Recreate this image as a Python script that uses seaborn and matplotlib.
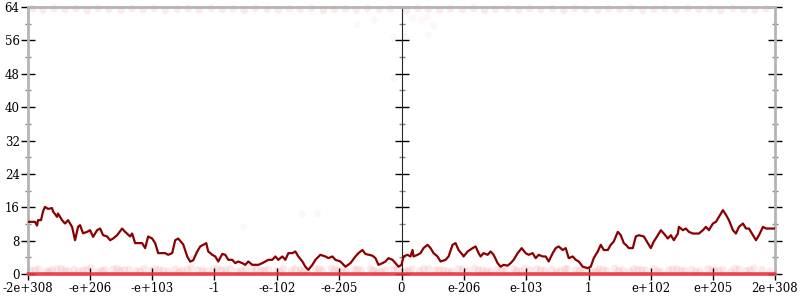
import matplotlib
matplotlib.use("Agg")
import matplotlib.pyplot as plt
from matplotlib.ticker import MultipleLocator
import seaborn as sns
import pandas as pd

# ---- data (x = position along the ordered-float axis, y = count) ----
tick_pos = [-373, -311, -249, -187, -124, -62, 0, 62, 124, 187, 249, 311, 373]
tick_labels = ["-2e+308", "-e+206", "-e+103", "-1", "-e-102", "-e-205", "0",
               "e-206", "e-103", "1", "e+102", "e+205", "2e+308"]

line_x = [-373, -366, -364, -363, -360, -358, -356, -353, -349, -348, -344, -343, -339, -336,
          -333, -329, -326, -323, -321, -318, -314, -311, -308, -304, -301, -298, -294, -291,
          -288, -284, -279, -276, -271, -269, -266, -259, -256, -253, -249, -246, -243, -236,
          -233, -229, -226, -223, -219, -218, -214, -211, -208, -204, -201, -198, -195, -193,
          -189, -186, -183, -179, -176, -173, -169, -166, -163, -159, -156, -153, -149, -146,
          -143, -139, -136, -133, -129, -126, -123, -119, -116, -113, -109, -106, -103, -99,
          -96, -93, -89, -86, -81, -76, -73, -69, -66, -61, -56, -51, -46, -43, -39, -36,
          -29, -26, -23, -19, -16, -13, -9, -6, -3, 0, 2, 6, 9, 11, 12, 16, 19, 22, 26, 29,
          32, 36, 39, 44, 47, 51, 54, 57, 61, 62, 66, 71, 74, 77, 79, 82, 86, 89, 92, 96, 99,
          102, 106, 109, 112, 116, 120, 124, 127, 131, 134, 137, 141, 144, 147, 151, 154, 157,
          161, 164, 167, 171, 174, 177, 181, 186, 189, 192, 196, 199, 202, 206, 209, 212, 216,
          219, 222, 224, 227, 231, 234, 237, 242, 246, 249, 252, 256, 259, 262, 266, 269, 272,
          276, 277, 281, 284, 287, 291, 294, 297, 301, 304, 307, 311, 314, 317, 321, 324, 327,
          331, 334, 337, 341, 344, 347, 351, 354, 357, 361, 364, 371, 373]
line_y = [12.5, 12.5, 11.6, 12.9, 12.9, 15.0, 16.1, 15.6, 15.8, 15.0, 13.7, 14.5, 12.9, 12.1,
          12.9, 11.3, 8.1, 11.3, 11.7, 9.75, 10.1, 10.5, 8.9, 10.5, 10.9, 9.3, 9.0, 8.1,
          8.5, 9.3, 10.9, 10.1, 9.0, 9.7, 7.4, 7.4, 6.2, 9.0, 8.5, 7.4, 5.0, 5.0,
          4.6, 5.0, 8.1, 8.5, 7.4, 7.1, 4.2, 2.95, 3.3, 5.4, 6.6, 7.0, 7.4, 5.4,
          4.6, 4.2, 3.0, 4.8, 4.6, 3.4, 3.4, 2.6, 3.0, 2.6, 2.2, 3.0, 2.2, 2.2,
          2.2, 2.6, 3.0, 3.4, 3.4, 4.2, 3.4, 4.2, 3.4, 5.0, 5.0, 5.4, 4.2, 3.0,
          1.75, 1.0, 2.2, 3.4, 4.6, 4.2, 3.8, 4.2, 3.4, 3.0, 1.75, 2.6, 4.2, 5.0, 5.75, 4.8,
          4.4, 3.8, 2.2, 2.6, 3.0, 3.8, 3.4, 2.6, 1.75, 2.2, 4.2, 4.6, 4.2, 5.75, 4.2, 4.6, 5.0, 6.2, 7.0, 6.2,
          5.0, 4.2, 3.0, 3.4, 4.2, 7.0, 7.4, 5.75, 4.6, 4.2, 5.4, 6.2, 6.6, 5.0, 4.2, 5.0, 4.6, 5.4, 4.6, 2.6, 1.75,
          2.2, 2.0, 2.6, 3.4, 5.0, 6.2, 5.0, 4.6, 5.0, 3.8, 4.6, 4.2, 4.2, 3.0, 5.0, 6.2, 6.6,
          5.75, 6.2, 3.8, 4.2, 3.4, 3.0, 1.75, 1.4, 1.75, 3.8, 5.4, 7.0, 5.75, 5.75, 7.0, 7.8, 10.1,
          9.3, 7.4, 7.0, 6.2, 6.2, 9.0, 9.3, 9.0, 7.4, 6.2, 7.8, 9.3, 10.5, 9.7, 8.5, 9.3, 8.1,
          9.7, 11.3, 10.5, 10.9, 10.1, 9.7, 9.7, 9.7, 10.5, 11.3, 10.5, 12.1, 12.5, 13.7, 15.3, 14.2, 12.9,
          10.5, 9.7, 11.3, 12.1, 10.9, 10.9, 9.3, 8.1, 9.3, 11.3, 10.9, 10.9, 10.9]

# faint individual samples near the bottom, near the top, and a few stray ones
low_x = [-370, -362, -355, -349, -340, -333, -327, -318, -310, -303, -296, -288, -281, -272,
         -265, -257, -250, -242, -233, -226, -219, -210, -203, -195, -188, -180, -171, -164,
         -156, -149, -140, -133, -125, -118, -110, -101, -94, -86, -79, -70, -63, -55, -47,
         -40, -31, -24, -16, -8, 3, 10, 18, 27, 34, 42, 50, 57, 66, 73, 81, 89, 96, 104,
         112, 119, 128, 135, 143, 150, 159, 166, 174, 182, 190, 197, 205, 213, 221, 228,
         236, 244, 252, 259, 267, 275, 283, 290, 298, 306, 313, 321, 329, 337, 344, 352,
         360, 368,
         -366, -352, -344, -336, -322, -314, -299, -284, -277, -261, -246, -238, -222, -214,
         -199, -184, -176, -160, -145, -137, -121, -106, -98, -82, -67, -59, -44, -28, -20,
         -4, 7, 22, 38, 46, 61, 77, 85, 100, 115, 123, 139, 155, 163, 178, 194, 201, 217,
         232, 240, 256, 271, 279, 294, 310, 317, 333, 348, 356, 371]
low_y = [0.8, 1.2, 0.6, 1.0, 1.3, 0.7, 1.1, 0.9, 1.4, 0.6, 1.0, 1.2, 0.8, 1.1,
         0.7, 1.3, 0.9, 1.0, 0.6, 1.2, 0.8, 1.4, 1.0, 0.7, 1.1, 0.9, 1.3, 0.6,
         1.0, 1.2, 0.8, 1.1, 0.7, 1.3, 0.9, 1.0, 0.6, 1.2, 0.8, 1.4, 1.0, 0.7, 1.1,
         0.9, 1.3, 0.6, 1.0, 1.2, 0.8, 1.1, 0.7, 1.3, 0.9, 1.0, 0.6, 1.2, 0.8, 1.4,
         1.0, 0.7, 1.1, 0.9, 1.3, 0.6, 1.0, 1.2, 0.8, 1.1, 0.7, 1.3, 0.9, 1.0, 0.6,
         1.2, 0.8, 1.4, 1.0, 0.7, 1.1, 0.9, 1.3, 0.6, 1.0, 1.2, 0.8, 1.1, 0.7, 1.3,
         0.9, 1.0, 0.6, 1.2, 0.8, 1.4, 1.0, 0.7,
         1.0, 0.7, 1.2, 0.9, 0.6, 1.1, 0.8, 1.3, 1.0, 0.7, 1.2, 0.9, 0.6, 1.1,
         0.8, 1.3, 1.0, 0.7, 1.2, 0.9, 0.6, 1.1, 0.8, 1.3, 1.0, 0.7, 1.2, 0.9, 0.6,
         1.1, 0.8, 1.3, 1.0, 0.7, 1.2, 0.9, 0.6, 1.1, 0.8, 1.3, 1.0, 0.7, 1.2, 0.9, 0.6,
         1.1, 0.8, 1.3, 1.0, 0.7, 1.2, 0.9, 0.6, 1.1, 0.8, 1.3, 1.0]
top_x = [-368, -358, -347, -336, -325, -314, -303, -292, -280, -269, -258, -247, -236, -224,
         -213, -202, -190, -179, -168, -157, -146, -134, -123, -112, -101, -90, -78, -67,
         -56, -45, -34, -22, -11, 5, 16, 27, 38, 49, 61, 72, 83, 94, 106, 117, 128, 139,
         151, 162, 173, 184, 196, 207, 218, 229, 241, 252, 263, 274, 286, 297, 308, 319,
         331, 342, 353, 364]
top_y = [63.6, 63.3, 63.7, 63.4, 63.6, 63.2, 63.7, 63.5, 63.3, 63.6, 63.4, 63.7, 63.2, 63.5,
         63.6, 63.3, 63.7, 63.4, 63.6, 63.2, 63.7, 63.5, 63.3, 63.6, 63.4, 63.7, 63.2, 63.5,
         63.6, 63.3, 63.7, 63.4, 63.6, 63.2, 63.7, 63.5, 63.3, 63.6, 63.4, 63.7, 63.2, 63.5,
         63.6, 63.3, 63.7, 63.4, 63.6, 63.2, 63.7, 63.5, 63.3, 63.6, 63.4, 63.7, 63.2, 63.5,
         63.6, 63.3, 63.7, 63.4, 63.6, 63.2, 63.7, 63.5, 63.3, 63.6]
stray_x = [-158, -99, -84, -44, -27, 11, 20, 26, 32, 4, 27, -8, -8]
stray_y = [11.3, 14.4, 14.4, 59.7, 60.9, 61.4, 60.9, 61.6, 59.4, 57.0, 57.3, 56.8, 47.0]
zero_x = [-373, 373]
zero_y = [0, 0]

n = min(len(low_x), len(low_y))
line_df = pd.DataFrame({"x": line_x, "y": line_y})
band_df = pd.DataFrame({"x": low_x[:n] + top_x, "y": low_y[:n] + top_y})
stray_df = pd.DataFrame({"x": stray_x, "y": stray_y})
zero_df = pd.DataFrame({"x": zero_x, "y": zero_y})

sns.set_style("white")
plt.rcParams["font.family"] = ["DejaVu Serif"]

fig = plt.figure(figsize=(8, 3), dpi=100)
ax = fig.add_axes([28 / 800, 26 / 300, 747 / 800, 267 / 300])
ax.set_xlim(-373, 373)
ax.set_ylim(0, 64)

sns.scatterplot(data=band_df, x="x", y="y", ax=ax, color="#e02020", alpha=0.09,
                s=30, edgecolor="none", clip_on=False, zorder=2)
sns.scatterplot(data=stray_df, x="x", y="y", ax=ax, color="#e02020", alpha=0.035,
                s=26, edgecolor="none", clip_on=False, zorder=2)
sns.lineplot(data=zero_df, x="x", y="y", ax=ax, color="#e8303a", linewidth=2.6,
             alpha=0.9, clip_on=False, zorder=3)
sns.lineplot(data=line_df, x="x", y="y", ax=ax, color="#8b0000", linewidth=1.6,
             zorder=4, sort=False)

ax.set_xlabel("")
ax.set_ylabel("")

for side in ["left", "right", "top"]:
    ax.spines[side].set_visible(True)
    ax.spines[side].set_color("#b4b4b4")
    ax.spines[side].set_linewidth(2)
ax.spines["bottom"].set_visible(False)

ax.set_xticks(tick_pos)
ax.set_xticklabels(tick_labels)
ax.set_yticks(range(0, 65, 8))
ax.yaxis.set_minor_locator(MultipleLocator(4))
ax.tick_params(axis="x", which="major", direction="inout", length=8, width=1,
               color="black", labelsize=8.5, pad=2, bottom=True)
ax.tick_params(axis="y", which="major", direction="inout", length=10, width=1,
               color="black", labelsize=8.5, pad=1, left=True, right=True, labelright=False)
ax.tick_params(axis="y", which="minor", direction="inout", length=5, width=1,
               color="#888888", left=True, right=True)

sec = ax.secondary_yaxis(0.5)
sec.set_yticks(range(0, 65, 8))
sec.set_yticklabels([])
sec.yaxis.set_minor_locator(MultipleLocator(4))
sec.spines["left"].set_color("#b4b4b4")
sec.spines["left"].set_linewidth(2)
sec.tick_params(axis="y", which="major", direction="inout", length=10, width=1, color="black")
sec.tick_params(axis="y", which="minor", direction="inout", length=5, width=1, color="#888888")

for lab in ax.get_xticklabels() + ax.get_yticklabels():
    lab.set_color("black")

fig.savefig("out.png", dpi=100, facecolor="white")
